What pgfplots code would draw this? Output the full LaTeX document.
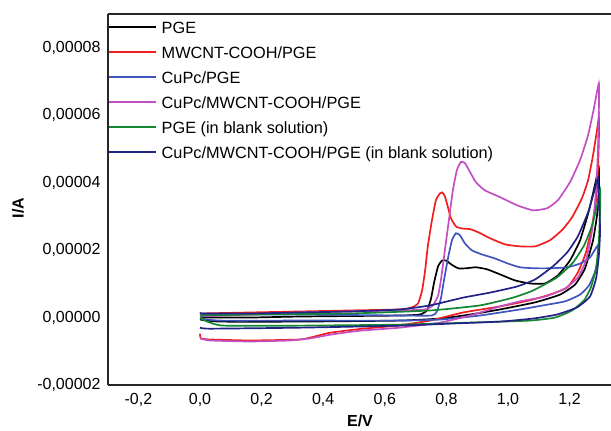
\documentclass[border=0pt]{standalone}
\usepackage{fontspec}
\setmainfont{Liberation Sans}
\usepackage{pgfplots}
\pgfplotsset{compat=1.18}
\definecolor{cvred}{RGB}{240,30,30}
\definecolor{cvblue}{RGB}{65,85,190}
\definecolor{cvmag}{RGB}{195,80,195}
\definecolor{cvgreen}{RGB}{20,135,50}
\definecolor{cvnavy}{RGB}{35,35,135}
\begin{document}
\begin{tikzpicture}[font=\fontsize{16}{19}\selectfont]
\useasboundingbox (0,0) rectangle (611pt,431pt);
\begin{axis}[
  at={(108pt,46pt)}, anchor=south west,
  scale only axis, width=503pt, height=371pt,
  xmin=-0.2987, xmax=1.3344, ymin=-2e-5, ymax=9e-5,
  axis x line=box, axis y line=left,
  axis line style={line width=1.6pt, black!85, -},
  every outer y axis line/.append style={-},
  major tick length=0pt,
  xtick={-0.2,0,0.2,0.4,0.6,0.8,1.0,1.2},
  ytick={-2e-5,0,2e-5,4e-5,6e-5,8e-5},
  scaled x ticks=false, scaled y ticks=false,
  xticklabel style={/pgf/number format/fixed, /pgf/number format/fixed zerofill, /pgf/number format/precision=1, /pgf/number format/use comma, /pgf/number format/assume math mode=true, yshift=-4.5pt},
  yticklabel style={/pgf/number format/fixed, /pgf/number format/fixed zerofill, /pgf/number format/precision=5, /pgf/number format/use comma, /pgf/number format/assume math mode=true, xshift=-4pt},
  xlabel={E/V}, ylabel={I/A},
  every axis x label/.style={at={(axis description cs:0.501,-0.111)}, anchor=base, font=\fontsize{16}{19}\selectfont\bfseries},
  every axis y label/.style={at={(axis description cs:-0.179,0.477)}, anchor=center, rotate=90, font=\fontsize{16}{19}\selectfont\bfseries},
  legend style={at={(axis description cs:0,0.981)}, anchor=north west, draw=none, fill=none, inner sep=0pt, outer sep=0pt, row sep=9pt,
    font=\fontsize{16.3}{19}\selectfont,
    nodes={inner xsep=5pt, inner ysep=0pt, text height=12pt, text depth=4pt, anchor=base west}},
  legend cell align=left,
  legend image code/.code={\draw[#1] (0pt,5.7pt) -- (47pt,5.7pt);},
  every axis plot/.append style={line width=1.7pt, smooth, tension=0.3},
]
% PGE
\addplot[black] coordinates {
(0,0) (0.162,0) (0.325,0.03e-5) (0.649,0.06e-5) (0.714,0.09e-5) (0.737,0.21e-5) (0.750,0.56e-5) (0.760,1.04e-5) (0.773,1.52e-5) (0.786,1.69e-5) (0.799,1.69e-5) (0.815,1.58e-5) (0.838,1.46e-5) (0.864,1.46e-5) (0.896,1.49e-5) (0.932,1.43e-5) (0.974,1.28e-5) (1.023,1.10e-5) (1.071,1.01e-5) (1.120,1.01e-5) (1.162,1.25e-5) (1.201,1.69e-5) (1.234,2.29e-5) (1.263,3.18e-5) (1.282,3.92e-5) (1.295,4.43e-5)
(1.295,3.77e-5) (1.289,3.03e-5) (1.276,2.29e-5) (1.250,1.46e-5) (1.218,0.98e-5) (1.169,0.68e-5) (1.088,0.45e-5) (0.974,0.24e-5) (0.877,0.09e-5) (0.779,-0.03e-5) (0.649,-0.09e-5) (0.325,-0.12e-5) (0.065,-0.12e-5) (0,-0.06e-5)
};
\addlegendentry{PGE}
% MWCNT-COOH/PGE
\addplot[cvred] coordinates {
(0,0.12e-5) (0.162,0.15e-5) (0.325,0.18e-5) (0.487,0.21e-5) (0.649,0.24e-5) (0.688,0.30e-5) (0.708,0.42e-5) (0.721,0.80e-5) (0.731,1.40e-5) (0.740,2.14e-5) (0.753,2.88e-5) (0.766,3.48e-5) (0.779,3.68e-5) (0.786,3.71e-5) (0.795,3.60e-5) (0.805,3.27e-5) (0.815,2.94e-5) (0.831,2.70e-5) (0.851,2.64e-5) (0.877,2.62e-5) (0.903,2.53e-5) (0.942,2.35e-5) (0.990,2.17e-5) (1.039,2.11e-5) (1.088,2.11e-5) (1.136,2.29e-5) (1.175,2.59e-5) (1.208,2.97e-5) (1.240,3.54e-5) (1.260,4.07e-5) (1.276,4.81e-5) (1.289,5.56e-5) (1.295,5.94e-5)
(1.295,5.26e-5) (1.292,4.37e-5) (1.286,3.48e-5) (1.273,2.73e-5) (1.253,1.93e-5) (1.227,1.34e-5) (1.192,0.89e-5) (1.136,0.68e-5) (1.071,0.51e-5) (0.974,0.33e-5) (0.854,0.15e-5) (0.747,-0.09e-5) (0.640,-0.24e-5) (0.529,-0.33e-5) (0.422,-0.45e-5) (0.373,-0.56e-5) (0.325,-0.65e-5) (0.162,-0.68e-5) (0.032,-0.65e-5) (0.003,-0.62e-5) (0,-0.48e-5)
};
\addlegendentry{MWCNT-COOH/PGE}
% CuPc/PGE
\addplot[cvblue] coordinates {
(0,0.15e-5) (0.016,0.09e-5) (0.162,0.09e-5) (0.325,0.09e-5) (0.649,0.06e-5) (0.753,0.06e-5) (0.769,0.18e-5) (0.782,0.56e-5) (0.792,1.10e-5) (0.805,1.75e-5) (0.818,2.29e-5) (0.831,2.50e-5) (0.844,2.44e-5) (0.860,2.20e-5) (0.883,1.99e-5) (0.916,1.87e-5) (0.958,1.75e-5) (1.000,1.60e-5) (1.039,1.49e-5) (1.088,1.46e-5) (1.136,1.46e-5) (1.192,1.49e-5) (1.234,1.60e-5) (1.266,1.78e-5) (1.292,2.14e-5)
(1.292,1.75e-5) (1.282,1.34e-5) (1.263,0.95e-5) (1.234,0.68e-5) (1.185,0.48e-5) (1.114,0.36e-5) (1.039,0.24e-5) (0.909,0.06e-5) (0.779,-0.06e-5) (0.649,-0.09e-5) (0.325,-0.09e-5) (0.065,-0.09e-5) (0,-0.03e-5)
};
\addlegendentry{CuPc/PGE}
% CuPc/MWCNT-COOH/PGE
\addplot[cvmag] coordinates {
(0,0.03e-5) (0.162,0.09e-5) (0.325,0.15e-5) (0.487,0.18e-5) (0.649,0.21e-5) (0.731,0.24e-5) (0.756,0.36e-5) (0.773,0.65e-5) (0.782,1.10e-5) (0.795,1.99e-5) (0.808,2.88e-5) (0.821,3.77e-5) (0.834,4.37e-5) (0.847,4.61e-5) (0.860,4.58e-5) (0.877,4.31e-5) (0.896,4.01e-5) (0.925,3.77e-5) (0.974,3.57e-5) (1.029,3.33e-5) (1.081,3.18e-5) (1.127,3.24e-5) (1.162,3.48e-5) (1.201,4.01e-5) (1.234,4.67e-5) (1.260,5.41e-5) (1.279,6.21e-5) (1.295,6.95e-5)
(1.295,6.15e-5) (1.292,4.96e-5) (1.286,3.77e-5) (1.273,2.59e-5) (1.253,1.69e-5) (1.227,1.19e-5) (1.185,0.86e-5) (1.120,0.62e-5) (1.039,0.48e-5) (0.974,0.33e-5) (0.877,0.06e-5) (0.779,-0.15e-5) (0.649,-0.30e-5) (0.519,-0.39e-5) (0.422,-0.51e-5) (0.357,-0.62e-5) (0.292,-0.68e-5) (0.162,-0.71e-5) (0.032,-0.68e-5) (0,-0.62e-5)
};
\addlegendentry{CuPc/MWCNT-COOH/PGE}
% PGE (blank)
\addplot[cvgreen] coordinates {
(0,0) (0.016,-0.09e-5) (0.042,-0.18e-5) (0.081,-0.24e-5) (0.325,-0.24e-5) (0.649,-0.21e-5) (0.877,-0.15e-5) (1.071,-0.09e-5) (1.153,0) (1.208,0.21e-5) (1.247,0.51e-5) (1.269,0.89e-5) (1.286,1.46e-5) (1.295,2.29e-5) (1.299,3.18e-5) (1.299,3.77e-5)
(1.289,3.33e-5) (1.273,2.73e-5) (1.247,2.14e-5) (1.211,1.63e-5) (1.159,1.19e-5) (1.081,0.80e-5) (1.016,0.59e-5) (0.909,0.36e-5) (0.747,0.21e-5) (0.487,0.12e-5) (0.162,0.09e-5) (0,0.06e-5)
};
\addlegendentry{PGE (in blank solution)}
% CuPc/MWCNT-COOH/PGE (blank)
\addplot[cvnavy] coordinates {
(0,0.12e-5) (0.162,0.12e-5) (0.325,0.15e-5) (0.487,0.18e-5) (0.649,0.24e-5) (0.747,0.36e-5) (0.854,0.59e-5) (0.942,0.74e-5) (1.029,0.92e-5) (1.088,1.13e-5) (1.146,1.52e-5) (1.192,1.93e-5) (1.227,2.41e-5) (1.260,3.12e-5) (1.279,3.71e-5) (1.292,4.13e-5)
(1.295,3.48e-5) (1.299,2.59e-5) (1.295,1.84e-5) (1.286,1.16e-5) (1.266,0.62e-5) (1.224,0.30e-5) (1.159,0.09e-5) (1.081,-0.03e-5) (0.974,-0.12e-5) (0.812,-0.18e-5) (0.649,-0.24e-5) (0.325,-0.30e-5) (0.032,-0.33e-5) (0,-0.30e-5)
};
\addlegendentry{CuPc/MWCNT-COOH/PGE (in blank solution)}
\end{axis}
\end{tikzpicture}
\end{document}
